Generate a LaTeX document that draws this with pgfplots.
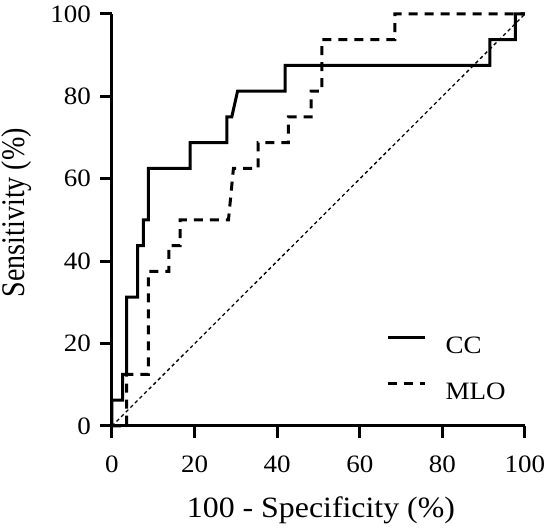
\documentclass[border=0pt]{standalone}
\usepackage{fontspec}
\setmainfont{Liberation Serif}[FakeStretch=1.08]
\newfontfamily\ylabfont{Liberation Serif}[FakeStretch=0.85]
\usepackage{pgfplots}
\pgfplotsset{compat=1.18}
\begin{document}
\begin{tikzpicture}
\begin{axis}[
  scale only axis, width=413pt, height=412pt,
  xmin=0, xmax=100, ymin=0, ymax=100,
  axis lines=left,
  axis line style={-, line width=3pt},
  xtick={0,20,...,100}, ytick={0,20,...,100},
  tick align=outside,
  major tick length=12pt,
  every tick/.style={black, line width=3pt},
  /pgf/number format/assume math mode=true,
  ticklabel style={font=\fontsize{25}{30}\selectfont},
  xticklabel style={anchor=base, inner sep=0pt, yshift=-35pt},
  yticklabel style={anchor=east, inner sep=0pt, xshift=-9pt},
  xlabel={100 - Specificity (\%)},
  ylabel={Sensitivity (\%)},
  xlabel style={font=\fontsize{29.5}{34}\selectfont, at={(axis description cs:0.506,-0.2209)}, anchor=base, inner sep=0pt},
  ylabel style={font=\ylabfont\fontsize{33}{38}\selectfont, at={(axis description cs:-0.2107,0.518)}, anchor=base, inner sep=0pt},
  legend style={draw=none, fill=none, at={(axis description cs:0.6646,0.2184)}, anchor=north west,
    inner sep=0pt, row sep=23pt,
    nodes={inner sep=0pt, text height=17pt, text depth=5pt, font=\fontsize{25}{30}\selectfont},
    /tikz/every odd column/.append style={column sep=19pt}},
  legend image code/.code={\draw[#1] (0pt,10pt) -- (37pt,10pt);},
  legend cell align=left,
  clip=false,
]
\addplot[black, line width=1.3pt, dash pattern=on 3.5pt off 3pt, forget plot] coordinates {(0,0) (100,100)};
\addplot[black, line width=3pt, line join=miter] coordinates {
(0,0) (0,6.25) (2.6,6.25) (2.6,12.5) (3.56,12.5) (3.56,31.25) (6.2,31.25) (6.2,43.75)
(7.6,43.75) (7.6,50) (8.8,50) (8.8,62.5) (18.9,62.5) (18.9,68.75) (27.8,68.75) (27.8,75)
(29,75) (30.4,81.25) (41.9,81.25) (41.9,87.5) (91.5,87.5) (91.5,93.75) (97.7,93.75) (97.7,100) (100,100)
};
\addlegendentry{CC}
\addplot[black, line width=3pt, dash pattern=on 9pt off 7pt] coordinates {
(0,0) (3.56,0) (3.56,12.5) (8.8,12.5) (8.8,37.5) (13.8,37.5) (13.8,43.75) (16.5,43.75) (16.5,50)
(28.2,50) (29.4,62.5) (35.4,62.5) (35.4,68.75) (42.7,68.75) (42.7,75) (48.2,75) (48.2,81.25)
(50.8,81.25) (50.8,93.75) (68.5,93.75) (68.5,100) (100,100)
};
\addlegendentry{MLO}
\end{axis}
\pgfresetboundingbox
\path[use as bounding box] (-112pt,-103pt) rectangle (438pt,426pt);
\end{tikzpicture}
\end{document}
